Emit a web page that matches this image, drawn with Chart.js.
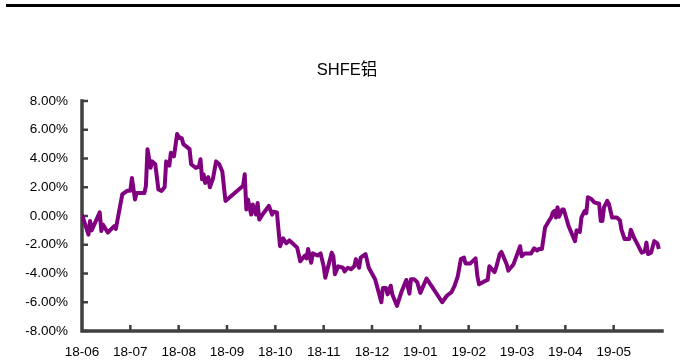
<!DOCTYPE html>
<html>
<head>
<meta charset="utf-8">
<script src="https://cdn.jsdelivr.net/npm/chart.js@4/dist/chart.umd.min.js"></script>
<style>
  html, body { margin: 0; padding: 0; background: #fff; }
  #wrap { position: relative; width: 680px; height: 360px; }
  #rule { position: absolute; left: 6px; right: 0; top: 4px; height: 3px; background: #000; }
  #titulo { position: absolute; left: 0; top: 56px; width: 694px; line-height: 20px; text-align: center;
            font: 16.5px 'Liberation Sans', Arial, 'Noto Sans CJK SC', sans-serif; color: #000; }
  canvas { position: absolute; left: 0; top: 0; }
</style>
</head>
<body>
<div id="wrap">
  <div id="rule"></div>
  <canvas id="grafico" width="680" height="360"></canvas>
  <div id="titulo">SHFE铝</div>
</div>
<script>
// etiquetas del eje X (una por mes)
const meses = ['18-06', '18-07', '18-08', '18-09', '18-10', '18-11',
               '18-12', '19-01', '19-02', '19-03', '19-04', '19-05'];

// fechas de la serie
const fechas = [
  '2018-06-01', '2018-06-05', '2018-06-06', '2018-06-07', '2018-06-12', '2018-06-13', '2018-06-14', '2018-06-17',
  '2018-06-21', '2018-06-22', '2018-06-26', '2018-06-29', '2018-07-01', '2018-07-02', '2018-07-04', '2018-07-05',
  '2018-07-10', '2018-07-11', '2018-07-12', '2018-07-14', '2018-07-15', '2018-07-17', '2018-07-19', '2018-07-21',
  '2018-07-23', '2018-07-24', '2018-07-26', '2018-07-27', '2018-07-29', '2018-07-31', '2018-08-01', '2018-08-03',
  '2018-08-04', '2018-08-08', '2018-08-09', '2018-08-12', '2018-08-14', '2018-08-15', '2018-08-16', '2018-08-17',
  '2018-08-18', '2018-08-20', '2018-08-21', '2018-08-23', '2018-08-25', '2018-08-27', '2018-08-29', '2018-08-31',
  '2018-09-11', '2018-09-12', '2018-09-13', '2018-09-14', '2018-09-16', '2018-09-17', '2018-09-19', '2018-09-20',
  '2018-09-21', '2018-09-23', '2018-09-27', '2018-09-29', '2018-09-30', '2018-10-02', '2018-10-04', '2018-10-06',
  '2018-10-08', '2018-10-10', '2018-10-12', '2018-10-15', '2018-10-17', '2018-10-20', '2018-10-21', '2018-10-22',
  '2018-10-24', '2018-10-25', '2018-10-28', '2018-10-30', '2018-11-01', '2018-11-02', '2018-11-06', '2018-11-07',
  '2018-11-08', '2018-11-10', '2018-11-13', '2018-11-14', '2018-11-16', '2018-11-18', '2018-11-20', '2018-11-21',
  '2018-11-23', '2018-11-24', '2018-11-27', '2018-11-29', '2018-12-03', '2018-12-05', '2018-12-07', '2018-12-08',
  '2018-12-10', '2018-12-11', '2018-12-13', '2018-12-14', '2018-12-17', '2018-12-20', '2018-12-23', '2018-12-25',
  '2018-12-26', '2018-12-28', '2018-12-30', '2019-01-01', '2019-01-05', '2019-01-09', '2019-01-15', '2019-01-18',
  '2019-01-21', '2019-01-23', '2019-01-25', '2019-01-27', '2019-01-29', '2019-01-30', '2019-02-02', '2019-02-05',
  '2019-02-06', '2019-02-07', '2019-02-10', '2019-02-12', '2019-02-13', '2019-02-16', '2019-02-17', '2019-02-19',
  '2019-02-20', '2019-02-23', '2019-02-24', '2019-02-27', '2019-03-03', '2019-03-04', '2019-03-06', '2019-03-10',
  '2019-03-12', '2019-03-14', '2019-03-15', '2019-03-17', '2019-03-19', '2019-03-22', '2019-03-23', '2019-03-24',
  '2019-03-25', '2019-03-26', '2019-03-27', '2019-03-28', '2019-03-30', '2019-03-31', '2019-04-03', '2019-04-07',
  '2019-04-08', '2019-04-10', '2019-04-11', '2019-04-13', '2019-04-14', '2019-04-15', '2019-04-17', '2019-04-19',
  '2019-04-22', '2019-04-23', '2019-04-24', '2019-04-25', '2019-04-27', '2019-04-28', '2019-04-30', '2019-05-03',
  '2019-05-05', '2019-05-06', '2019-05-08', '2019-05-11', '2019-05-12', '2019-05-14', '2019-05-15', '2019-05-19',
  '2019-05-21', '2019-05-22', '2019-05-23', '2019-05-25', '2019-05-27', '2019-05-29', '2019-05-30'
];

// variación en %
const valores = [
  0.1, -1.3, -0.35, -1.0, 0.25, -1.05, -0.6, -1.15,
  -0.7, -0.9, 1.5, 1.75, 1.75, 2.65, 1.15, 1.6,
  1.6, 2.1, 4.65, 3.35, 3.8, 3.6, 1.85, 1.75,
  2.0, 3.8, 3.5, 4.4, 4.15, 5.7, 5.5, 5.4,
  5.0, 4.65, 3.6, 3.35, 3.45, 3.95, 2.55, 2.9,
  2.3, 2.7, 2.0, 2.6, 3.8, 3.6, 3.1, 1.05,
  2.1, 2.9, 0.45, 1.15, 0.1, 0.8, 0.1, 0.9,
  -0.25, 0.1, 0.7, 0.1, 0.3, 0.25, -2.1, -1.55,
  -1.9, -1.7, -1.9, -2.2, -3.15, -2.75, -2.95, -2.3,
  -3.25, -2.6, -2.75, -2.6, -3.5, -4.3, -2.55, -2.8,
  -4.05, -3.5, -3.6, -3.85, -3.6, -3.7, -3.5, -3.0,
  -3.6, -2.9, -2.65, -3.6, -4.4, -5.2, -6.0, -5.0,
  -5.0, -5.45, -4.85, -5.45, -6.25, -5.25, -4.45, -5.4,
  -4.4, -4.4, -4.6, -5.35, -4.35, -5.0, -6.0, -5.55,
  -5.3, -4.85, -4.2, -3.0, -2.9, -3.3, -3.3, -2.95,
  -4.15, -4.75, -4.55, -4.45, -3.5, -3.9, -3.55, -2.65,
  -2.5, -3.35, -3.8, -3.35, -2.1, -2.8, -2.6, -2.6,
  -2.25, -2.4, -2.3, -2.3, -0.8, -0.25, -0.1, 0.25,
  0.35, -0.1, 0.6, -0.05, 0.45, 0.45, -0.7, -1.75,
  -1.0, -1.1, -0.1, 0.35, 0.2, 1.3, 1.2, 0.95,
  0.85, -0.35, -0.35, 0.6, 1.05, 0.85, -0.1, -0.1,
  -0.3, -0.95, -1.6, -1.6, -0.95, -1.5, -1.7, -2.55,
  -2.45, -1.85, -2.65, -2.55, -1.75, -1.9, -2.3
];

// posición en meses desde 18-06 (cada mes ocupa el mismo ancho)
function aMes(f) {
  const [a, m, d] = f.split('-').map(Number);
  const dias = new Date(a, m, 0).getDate();
  return (a - 2018) * 12 + (m - 6) + (d - 1) / dias;
}

const puntos = fechas.map((f, i) => ({ x: aMes(f), y: valores[i] }));

Chart.defaults.font.family = "'Liberation Sans', Arial, sans-serif";
Chart.defaults.color = '#000';

// ejes gruesos con marcas hacia dentro
const ejes = {
  id: 'ejes',
  beforeDatasetsDraw(chart) {
    const { ctx, chartArea: a, scales: { x, y } } = chart;
    ctx.save();
    ctx.strokeStyle = '#404040';
    ctx.lineWidth = 3.5;
    ctx.lineCap = 'square';
    ctx.beginPath();
    ctx.moveTo(a.left, a.top);
    ctx.lineTo(a.left, a.bottom);
    ctx.lineTo(a.right, a.bottom);
    ctx.stroke();
    ctx.lineWidth = 2.5;
    ctx.lineCap = 'butt';
    ctx.beginPath();
    y.ticks.forEach(t => {
      const py = y.getPixelForValue(t.value);
      ctx.moveTo(a.left, py);
      ctx.lineTo(a.left + 6, py);
    });
    x.ticks.forEach(t => {
      if (t.value <= 0 || t.value >= meses.length) return;
      const px = x.getPixelForValue(t.value);
      ctx.moveTo(px, a.bottom);
      ctx.lineTo(px, a.bottom - 6);
    });
    ctx.stroke();
    ctx.restore();
  }
};

new Chart(document.getElementById('grafico'), {
  type: 'line',
  data: {
    datasets: [{
      data: puntos,
      borderColor: '#800080',
      borderWidth: 4,
      borderJoinStyle: 'round',
      pointRadius: 0,
      tension: 0,
      fill: false
    }]
  },
  options: {
    responsive: false,
    animation: false,
    layout: { padding: { left: 4, right: 18, top: 101, bottom: 0 } },
    plugins: {
      legend: { display: false },
      tooltip: { enabled: false }
    },
    scales: {
      x: {
        type: 'linear',
        min: 0,
        max: 12,
        grid: { display: false, drawTicks: false },
        border: { display: false },
        afterFit: s => { s.height = 29; },
        ticks: {
          stepSize: 1,
          autoSkip: false,
          maxRotation: 0,
          padding: 13,
          font: { size: 13.5 },
          callback: v => meses[v] ?? ''
        }
      },
      y: {
        min: -8,
        max: 8,
        grid: { display: false, drawTicks: false },
        border: { display: false },
        afterFit: s => { s.width = 78; },
        ticks: {
          stepSize: 2,
          padding: 14,
          font: { size: 13.5 },
          callback: v => v.toFixed(2) + '%'
        }
      }
    }
  },
  plugins: [ejes]
});
</script>
</body>
</html>
